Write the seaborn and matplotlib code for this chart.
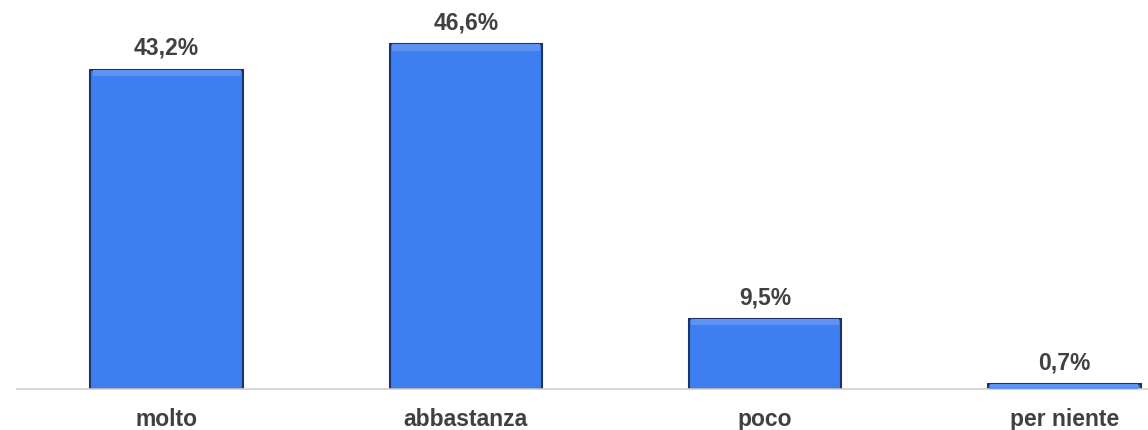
import matplotlib
matplotlib.use('Agg')
import matplotlib.pyplot as plt
import seaborn as sb
import pandas as pd

categories = ['molto', 'abbastanza', 'poco', 'per niente']
values = [43.2, 46.6, 9.5, 0.7]
labels = ['43,2%', '46,6%', '9,5%', '0,7%']

sb.set_style('white')
plt.rcParams['font.family'] = ['Liberation Sans', 'DejaVu Sans']

df = pd.DataFrame({'cat': categories, 'val': values})

fig = plt.figure(figsize=(11.48, 4.3), dpi=100)
ax = fig.add_axes([17 / 1148, 41 / 430, 1131 / 1148, 389 / 430])

sb.barplot(data=df, x='cat', y='val', color='#3d7ef0', saturation=1,
           width=0.51, edgecolor='#1c3566', linewidth=1.5, ax=ax)

# lighter top band for a bit of bevel look
for p in ax.patches:
    x, w, h = p.get_x(), p.get_width(), p.get_height()
    band = min(h, 0.9)
    ax.bar(x + w / 2, band, bottom=h - band, width=w * 0.97,
           color='#5e93f4', linewidth=0, zorder=3)

for i, (v, t) in enumerate(zip(values, labels)):
    ax.text(i, v + 1.3, t, ha='center', va='bottom', fontsize=16.5,
            fontweight='bold', color='#404040')

ax.set_xlim(-0.5, 3.28)
ax.set_ylim(0, 52.6)
ax.set_xlabel('')
ax.set_ylabel('')
ax.set_yticks([])
ax.tick_params(axis='x', length=0, pad=14, labelsize=16.5, labelcolor='#404040')
for lbl in ax.get_xticklabels():
    lbl.set_fontweight('bold')
for s in ['top', 'right', 'left']:
    ax.spines[s].set_visible(False)
ax.spines['bottom'].set_color('#d0d0d0')
ax.spines['bottom'].set_linewidth(1.2)

fig.savefig('out.png', dpi=100)
